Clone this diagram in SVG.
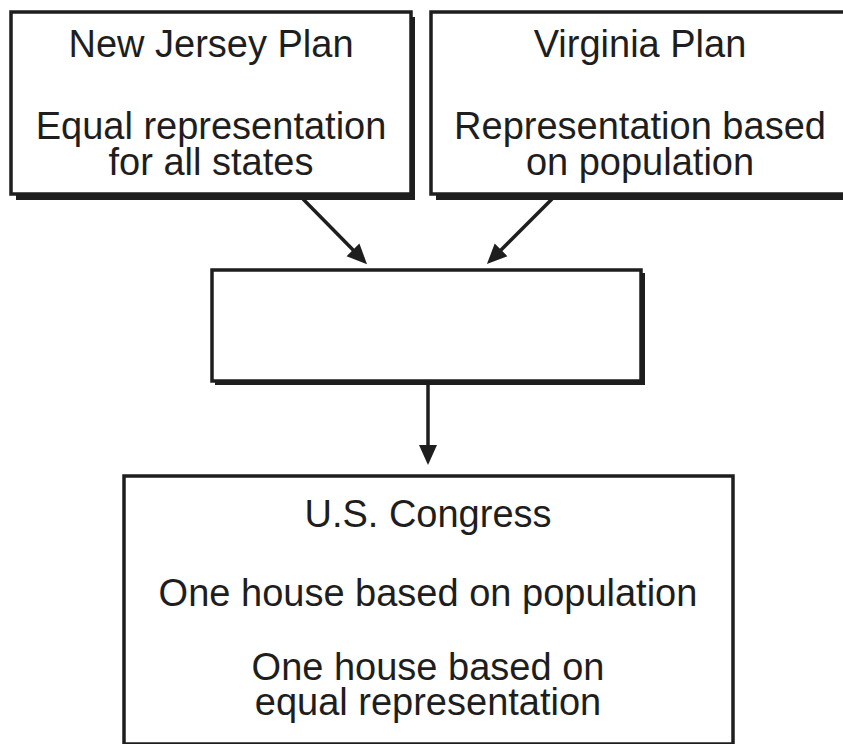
<svg xmlns="http://www.w3.org/2000/svg" width="843" height="744" viewBox="0 0 843 744">
  <style>
    .shadow { fill: #1e1e1e; }
    .box { fill: #ffffff; stroke: #1e1e1e; stroke-width: 3.5; }
    .label { font-family: "Liberation Sans", Arial, Helvetica, sans-serif; font-size: 38px; fill: #1e1e1e; text-anchor: middle; }
    .conn { stroke: #1e1e1e; stroke-width: 3.5; fill: none; marker-end: url(#arrow); }
  </style>
  <defs>
    <marker id="arrow" viewBox="0 0 20 20" refX="10" refY="10" markerWidth="20" markerHeight="20" markerUnits="userSpaceOnUse" orient="auto">
      <path d="M0,1 L20,10 L0,19 z" fill="#1e1e1e"/>
    </marker>
  </defs>
  <rect width="843" height="744" fill="#ffffff"/>

  <g id="new-jersey-plan">
    <rect class="shadow" x="16" y="17" width="399" height="183"/>
    <rect class="box" x="11" y="12" width="400" height="182"/>
    <text class="label" x="211" y="57">New Jersey Plan</text>
    <text class="label" x="211" y="139">Equal representation</text>
    <text class="label" x="211" y="175">for all states</text>
  </g>

  <g id="virginia-plan">
    <rect class="shadow" x="436" y="17" width="420" height="183"/>
    <rect class="box" x="431" y="12" width="420" height="182"/>
    <text class="label" x="640" y="57">Virginia Plan</text>
    <text class="label" x="640" y="139">Representation based</text>
    <text class="label" x="640" y="175">on population</text>
  </g>

  <g id="compromise">
    <rect class="shadow" x="215" y="273" width="430" height="112"/>
    <rect class="box" x="212" y="270" width="429" height="111"/>
  </g>

  <g id="us-congress">
    <rect class="box" x="124" y="476" width="609" height="268"/>
    <text class="label" x="428" y="527">U.S. Congress</text>
    <text class="label" x="428" y="606">One house based on population</text>
    <text class="label" x="428" y="680">One house based on</text>
    <text class="label" x="428" y="715">equal representation</text>
  </g>

  <g id="connectors">
    <line class="conn" x1="303" y1="199" x2="360" y2="257"/>
    <line class="conn" x1="552" y1="199" x2="494" y2="257"/>
    <line class="conn" x1="428" y1="383" x2="428" y2="455"/>
  </g>
</svg>
